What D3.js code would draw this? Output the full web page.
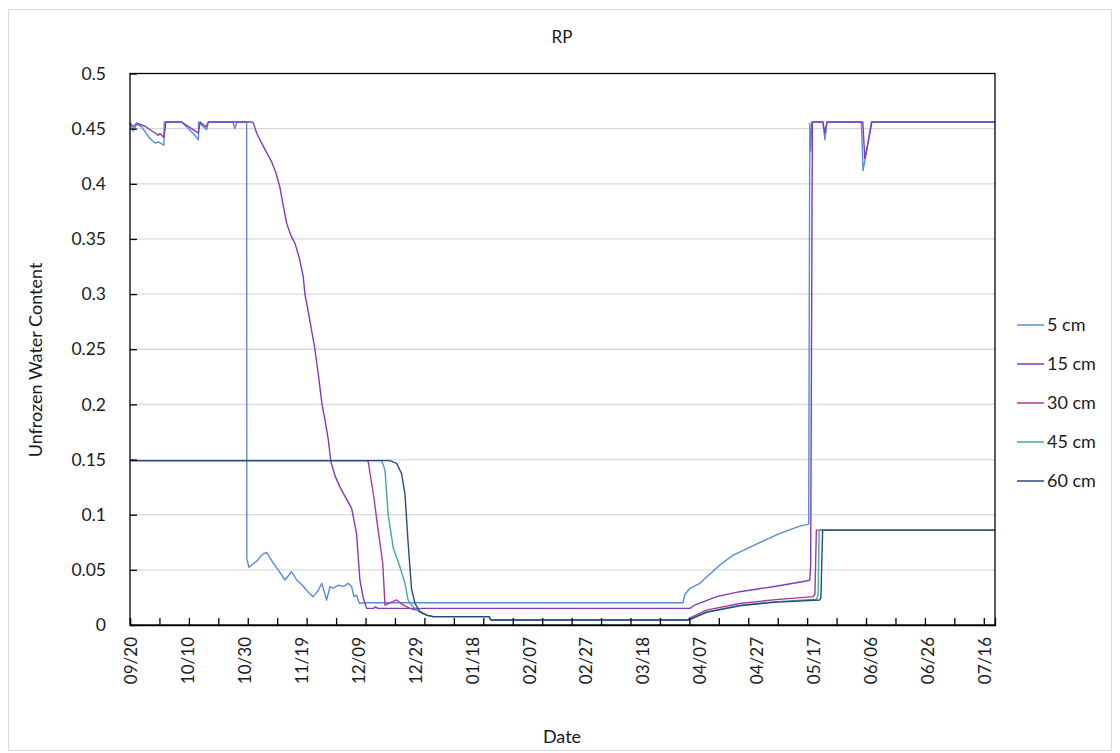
<!DOCTYPE html>
<html>
<head>
<meta charset="utf-8">
<script src="https://cdn.jsdelivr.net/npm/d3@7"></script>
<style>
  body { margin: 0; background: #fff; }
  text { font-family: Lato, "Open Sans", sans-serif; fill: #1a1a1a; }
</style>
</head>
<body>
<script>
    // days since 09/20, unfrozen water content
    const startDate = new Date(2019, 8, 20);
    const lastDay = 303.6;

    const depths = ["5 cm", "15 cm", "30 cm", "45 cm", "60 cm"];

    const cm5 = [
        [0, 0.454], [1.16, 0.448], [2.35, 0.454], [4.1, 0.4516], [7.0, 0.441], [8.8, 0.437],
        [9.9, 0.438], [11.9, 0.435], [12.0, 0.456], [18.1, 0.456], [22.2, 0.4456], [24.0, 0.440],
        [24.1, 0.456], [25.2, 0.453], [26.9, 0.449], [27.5, 0.456], [36.1, 0.456], [36.8, 0.450],
        [37.5, 0.456], [40.95, 0.456], [41.0, 0.0604], [41.75, 0.0523], [44.5, 0.058], [46.5, 0.064],
        [47.96, 0.0659], [50.3, 0.056], [52.0, 0.050], [54.4, 0.0408], [56.7, 0.0483], [58.5, 0.0408],
        [60.5, 0.036], [62.5, 0.030], [64.3, 0.0257], [66.0, 0.031], [67.3, 0.0378], [69.0, 0.0227],
        [70.2, 0.0347], [71.3, 0.0333], [73.0, 0.036], [75.0, 0.035], [76.6, 0.0378], [77.8, 0.0347],
        [78.6, 0.0257], [79.5, 0.027], [80.5, 0.0197], [83.05, 0.0202], [194.1, 0.0202], [194.7, 0.0272],
        [196.5, 0.0333], [200.0, 0.0378], [207.0, 0.0544], [211.7, 0.0634], [219.9, 0.0734],
        [228.1, 0.0831], [235.1, 0.0897], [238.2, 0.0915], [238.6, 0.455], [238.9, 0.430],
        [239.3, 0.456], [243.2, 0.456], [243.9, 0.440], [244.6, 0.456], [256.7, 0.456],
        [257.3, 0.412], [258.2, 0.425], [260.2, 0.456], [lastDay, 0.456]
    ];

    const cm15 = [
        [0, 0.4553], [1.16, 0.4516], [2.35, 0.455], [5.3, 0.4522], [8.2, 0.447], [9.9, 0.444],
        [10.5, 0.4456], [11.9, 0.442], [12.6, 0.456], [18.1, 0.456], [21.6, 0.450], [24.0, 0.446],
        [24.6, 0.456], [26.7, 0.4516], [27.5, 0.456], [42.7, 0.456], [43.3, 0.455], [44.5, 0.4456],
        [47.0, 0.433], [49.7, 0.420], [51.2, 0.410], [52.6, 0.397], [53.8, 0.380], [55.0, 0.364],
        [56.5, 0.353], [57.9, 0.346], [59.4, 0.333], [60.8, 0.316], [61.4, 0.300], [63.2, 0.275],
        [64.9, 0.250], [66.2, 0.225], [67.4, 0.200], [68.5, 0.185], [69.6, 0.168], [70.5, 0.148],
        [72.0, 0.135], [73.7, 0.125], [75.8, 0.115], [77.8, 0.1057], [79.5, 0.083], [80.7, 0.0408],
        [81.9, 0.0242], [83.05, 0.0151], [85.5, 0.0151], [86.2, 0.0165], [87.0, 0.0151],
        [196.5, 0.0151], [198.2, 0.0181], [205.9, 0.0257], [214.0, 0.0302], [225.7, 0.0347],
        [237.4, 0.0399], [238.6, 0.0408], [238.9, 0.0544], [239.5, 0.456], [243.2, 0.456],
        [243.9, 0.446], [244.6, 0.456], [257.2, 0.456], [257.9, 0.423], [258.9, 0.435],
        [260.4, 0.456], [lastDay, 0.456]
    ];

    const cm30 = [
        [0, 0.149], [83.05, 0.149], [83.6, 0.148], [85.4, 0.119], [87.1, 0.086], [88.7, 0.056],
        [89.5, 0.018], [91.2, 0.020], [93.6, 0.0227], [95.4, 0.019], [98.2, 0.0151], [100.6, 0.0136],
        [101.8, 0.012], [104.1, 0.009], [106.4, 0.0076], [126.0, 0.0076], [126.7, 0.0045],
        [195.9, 0.0045], [196.5, 0.0065], [202.3, 0.0135], [214.0, 0.0195], [225.7, 0.0228],
        [239.8, 0.0257], [240.4, 0.028], [240.9, 0.086], [lastDay, 0.086]
    ];

    const cm45 = [
        [0, 0.149], [88.3, 0.149], [88.9, 0.145], [89.5, 0.140], [90.6, 0.100], [92.4, 0.070],
        [94.7, 0.053], [96.5, 0.0378], [97.6, 0.0227], [98.8, 0.0181], [100.6, 0.0136],
        [104.1, 0.009], [106.4, 0.0076], [126.0, 0.0076], [126.7, 0.0045], [195.8, 0.0045],
        [196.5, 0.0055], [202.3, 0.0118], [214.0, 0.0178], [225.7, 0.021], [241.0, 0.0235],
        [241.5, 0.027], [241.9, 0.086], [lastDay, 0.086]
    ];

    const cm60 = [
        [0, 0.149], [91.2, 0.149], [93.6, 0.1465], [94.7, 0.1405], [95.3, 0.1375], [96.5, 0.119],
        [97.6, 0.075], [98.8, 0.033], [100.0, 0.0197], [101.8, 0.012], [104.1, 0.009],
        [106.4, 0.0076], [126.0, 0.0076], [126.7, 0.0045], [195.9, 0.0045], [196.5, 0.005],
        [202.3, 0.0115], [214.0, 0.0175], [225.7, 0.0205], [242.1, 0.0227], [242.5, 0.025],
        [243.1, 0.086], [lastDay, 0.086]
    ];

    const series = [cm5, cm15, cm30, cm45, cm60];
    const colors = ["#5b8ad7", "#7d3cbd", "#a8389e", "#3eaba4", "#2b4a7b"];

    const yTicks = d3.range(0, 0.5001, 0.05);
    const labelDays = d3.range(0, 301, 20);      // a date label every 20 days
    const tickDays = d3.range(0, lastDay, 248 / 24); // tick marks every 248 h

    const width = 1120, height = 753;
    const svg = d3.select("body").append("svg")
        .attr("width", width)
        .attr("height", height);

    // outer chart border
    svg.append("rect")
        .attr("x", 8.5).attr("y", 9.5)
        .attr("width", 1103).attr("height", 741)
        .attr("fill", "none")
        .attr("stroke", "#d9d9d9");

    const x = d3.scaleLinear().domain([0, lastDay]).range([130, 995]);
    const y = d3.scaleLinear().domain([0, 0.5]).range([625, 73.5]);

    const fmtDate = d3.timeFormat("%m/%d");
    const dayToDate = d => d3.timeDay.offset(startDate, d);

    // gridlines
    svg.append("g")
        .selectAll("line")
        .data(yTicks.slice(1, -1))
        .join("line")
        .attr("x1", x(0)).attr("x2", x(lastDay))
        .attr("y1", d => y(d)).attr("y2", d => y(d))
        .attr("stroke", "#d9d9d9")
        .attr("stroke-width", 1.3);

    // series
    const line = d3.line()
        .x(d => x(d[0]))
        .y(d => y(d[1]));

    svg.append("g")
        .attr("fill", "none")
        .attr("stroke-width", 1.4)
        .attr("stroke-linejoin", "round")
        .selectAll("path")
        .data(series)
        .join("path")
        .attr("stroke", (d, i) => colors[i])
        .attr("d", line);

    // plot frame
    svg.append("rect")
        .attr("x", x(0)).attr("y", y(0.5))
        .attr("width", x(lastDay) - x(0))
        .attr("height", y(0) - y(0.5))
        .attr("fill", "none")
        .attr("stroke", "#000")
        .attr("stroke-width", 1.3);

    // x tick marks (inside)
    svg.append("g")
        .attr("transform", `translate(0,${y(0)})`)
        .call(d3.axisBottom(x).tickValues(tickDays).tickSize(-7).tickFormat(""))
        .call(g => g.select(".domain").attr("stroke-width", 1.3))
        .call(g => g.selectAll(".tick line").attr("stroke-width", 1.3));

    // x date labels, rotated
    svg.append("g")
        .attr("transform", `translate(0,${y(0)})`)
        .call(d3.axisBottom(x).tickValues(labelDays).tickSize(0).tickFormat(d => fmtDate(dayToDate(d))))
        .call(g => g.select(".domain").remove())
        .call(g => g.selectAll("text")
            .attr("transform", "rotate(-90)")
            .attr("text-anchor", "end")
            .attr("x", -12)
            .attr("y", 0)
            .attr("dy", "0.36em")
            .attr("font-size", 17)
            .attr("font-family", "Lato, sans-serif")
            .attr("fill", "#1a1a1a"));

    // y axis
    svg.append("g")
        .attr("transform", `translate(${x(0)},0)`)
        .call(d3.axisLeft(y).tickValues(yTicks).tickSize(-7).tickPadding(24)
            .tickFormat(d => String(+d.toFixed(2))))
        .call(g => g.select(".domain").remove())
        .call(g => g.selectAll(".tick line").attr("stroke-width", 1.3))
        .call(g => g.selectAll("text")
            .attr("font-size", 17.5)
            .attr("font-family", "Lato, sans-serif")
            .attr("fill", "#1a1a1a"));

    // titles
    svg.append("text")
        .attr("x", 562).attr("y", 43)
        .attr("text-anchor", "middle")
        .attr("font-size", 17)
        .text("RP");

    svg.append("text")
        .attr("x", 562).attr("y", 743)
        .attr("text-anchor", "middle")
        .attr("font-size", 18)
        .text("Date");

    svg.append("text")
        .attr("transform", "translate(42,360) rotate(-90)")
        .attr("text-anchor", "middle")
        .attr("font-size", 18)
        .text("Unfrozen Water Content");

    // legend
    const legend = svg.append("g")
        .selectAll("g")
        .data(depths)
        .join("g")
        .attr("transform", (d, i) => `translate(1017,${325 + i * 39})`);

    legend.append("line")
        .attr("x1", 0).attr("x2", 27)
        .attr("stroke", (d, i) => colors[i])
        .attr("stroke-width", 1.5);

    legend.append("text")
        .attr("x", 30)
        .attr("dy", "0.36em")
        .attr("font-size", 18)
        .text(d => d);
</script>
</body>
</html>
